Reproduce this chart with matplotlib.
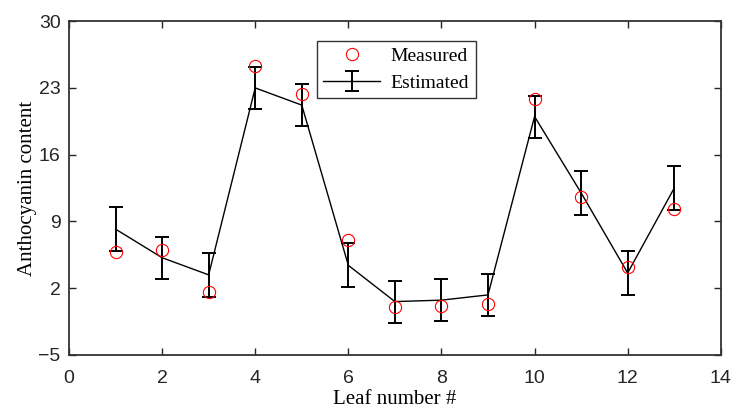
import numpy as np
import matplotlib.pyplot as plt

leaf = [1, 2, 3, 4, 5, 6, 7, 8, 9, 10, 11, 12, 13]
measured = [5.8, 6.0, 1.6, 25.3, 22.4, 7.1, 0.0, 0.15, 0.35, 21.8, 11.6, 4.2, 10.3]
estimated = [8.2, 5.2, 3.4, 23.0, 21.2, 4.4, 0.6, 0.75, 1.3, 20.0, 12.0, 3.6, 12.5]
err = [2.3, 2.2, 2.3, 2.2, 2.2, 2.3, 2.2, 2.2, 2.2, 2.2, 2.3, 2.3, 2.3]

yticks = [-5, 2, 9, 16, 23, 30]
xticks = [0, 2, 4, 6, 8, 10, 12, 14]

fig = plt.figure(figsize=(7.37, 4.15), dpi=100)
ax = fig.add_axes([0.0936, 0.1446, 0.8844, 0.8044])

ax.plot(leaf, measured, 'o', mfc='none', mec='red', ms=8.8, mew=0.8,
        label='Measured', zorder=3)
ax.errorbar(leaf, estimated, yerr=err, color='black', lw=1.0,
            elinewidth=1.4, capsize=4.8, capthick=1.4, label='Estimated')

ax.set_xlim(0, 14)
ax.set_ylim(-5, 30)
ax.set_xticks(xticks)
ax.set_yticks(yticks)
ax.tick_params(direction='in', length=5, width=1, top=True, right=True,
               labelsize=14, colors='#262626')
ax.tick_params(axis='x', pad=11)
ax.tick_params(axis='y', pad=6)
for lab in ax.get_xticklabels() + ax.get_yticklabels():
    lab.set_family('Liberation Sans')
for s in ax.spines.values():
    s.set_color('#333333')
    s.set_linewidth(1.3)

ax.set_xlabel('Leaf number #', family='Liberation Serif', fontsize=15,
              labelpad=2)
ax.set_ylabel('Anthocyanin content', family='Liberation Serif', fontsize=15,
              labelpad=1)

leg = ax.legend(loc='upper left', bbox_to_anchor=(0.38, 0.941),
                prop={'family': 'Liberation Serif', 'size': 14},
                fancybox=False, framealpha=1, edgecolor='#333333',
                borderpad=0.35, handlelength=2.9, handletextpad=0.55,
                labelspacing=0.45, borderaxespad=0)
leg.get_frame().set_linewidth(1.0)

fig.savefig('out.png', dpi=100)
